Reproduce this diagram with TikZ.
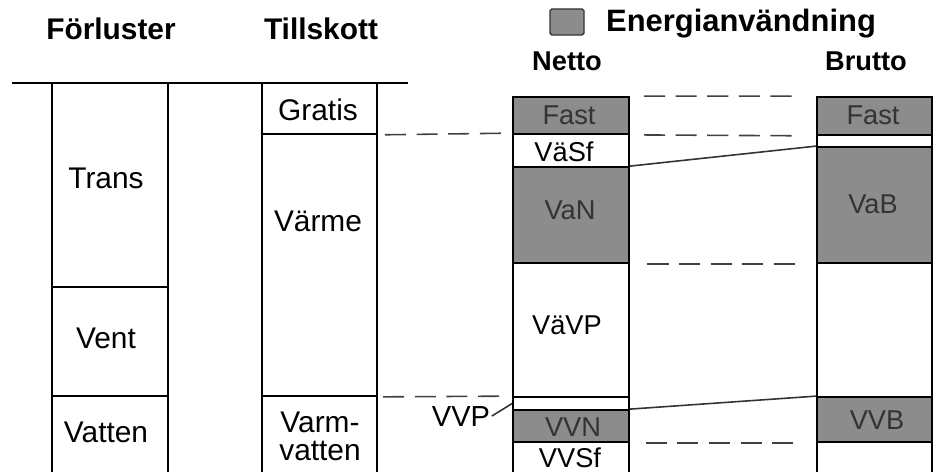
\documentclass[tikz,border=0pt]{standalone}
\usepackage{fontspec}
\setmainfont{Liberation Sans}
\usetikzlibrary{fit}

\begin{document}
\begin{tikzpicture}[x=0.02cm,y=-0.02cm,
  seg/.style={draw,line width=1pt,inner sep=0pt},
  energi/.style={seg,fill=black!45},
  lab/.style={font=\fontsize{17}{16}\selectfont,inner sep=0pt},
  nlab/.style={font=\fontsize{15.5}{16}\selectfont,inner sep=0pt},
  elab/.style={nlab,text=black!80},
  rubrik/.style={font=\bfseries\fontsize{17}{20}\selectfont,anchor=base},
  streck/.style={black!75,line width=0.9pt,dash pattern=on 12pt off 6pt},
  linje/.style={black!80,line width=0.9pt}]
\useasboundingbox (0,0) rectangle (944,472);
% rubriker
\node[rubrik] (forl) at (111,40) {Förluster};
\node[rubrik] (till) at (321,40) {Tillskott};
\node[draw=black!80,fill=black!45,rounded corners=1pt,line width=0.8pt,inner sep=0pt,fit={(550,9) (584,35)}] (legbox) {};
\node[rubrik,font=\bfseries\fontsize{17.6}{20}\selectfont] (energitxt) at (741,32) {Energianvändning};
\node[rubrik,font=\bfseries\fontsize{15.5}{18}\selectfont] (netto) at (567,71) {Netto};
\node[rubrik,font=\bfseries\fontsize{15.5}{18}\selectfont] (brutto) at (866,71) {Brutto};
\begin{scope}
\clip (0,0) rectangle (944,472);
\draw[line width=1pt] (12,83) -- (408,83);
% Förluster
\node[seg,fit={(52,83) (168,287)}] (trans) {};
\node[seg,fit={(52,287) (168,396)}] (vent) {};
\node[seg,fit={(52,396) (168,480)}] (vatten) {};
% Tillskott
\node[seg,fit={(262,83) (377,134)}] (gratis) {};
\node[seg,fit={(262,134) (377,396)}] (varme) {};
\node[seg,fit={(262,396) (377,480)}] (varmv) {};
% Netto
\node[energi,fit={(513,97) (629,134)}] (nfast) {};
\node[seg,fit={(513,134) (629,167)}] (vasf) {};
\node[energi,fit={(513,167) (629,263)}] (van) {};
\node[seg,fit={(513,263) (629,397)}] (vavp) {};
\node[seg,fit={(513,397) (629,410)}] (vvp) {};
\node[energi,fit={(513,410) (629,442)}] (vvn) {};
\node[seg,fit={(513,442) (629,480)}] (vvsf) {};
% Brutto
\node[energi,fit={(817,97) (932,135)}] (bfast) {};
\node[seg,fit={(817,135) (932,147)}] (bband) {};
\node[energi,fit={(817,147) (932,263)}] (vab) {};
\node[seg,fit={(817,263) (932,397)}] (bvarme) {};
\node[energi,fit={(817,397) (932,442)}] (vvb) {};
\node[seg,fit={(817,442) (932,480)}] (bvv) {};
% texter
\node[lab] (transtxt) at (106,178) {Trans};
\node[lab] (venttxt) at (106,338) {Vent};
\node[lab] (vattentxt) at (106,432) {Vatten};
\node[lab] (gratistxt) at (318,110) {Gratis};
\node[lab] (varmetxt) at (318,221) {Värme};
\node[lab,align=center] (varmvtxt) at (320,436) {Varm-\\vatten};
\node[elab] (nfasttxt) at (569,115) {Fast};
\node[nlab] (vasftxt) at (564,152) {VäSf};
\node[elab] (vantxt) at (570,210) {VaN};
\node[nlab] (vavptxt) at (567,325) {VäVP};
\node[elab] (vvntxt) at (573,427) {VVN};
\node[nlab] (vvsftxt) at (570,458) {VVSf};
\node[elab] (bfasttxt) at (873,115) {Fast};
\node[elab] (vabtxt) at (873,204) {VaB};
\node[elab] (vvbtxt) at (877,420) {VVB};
\end{scope}
% kopplingar
\draw[streck,shorten <=4pt,shorten >=2pt] (gratis.south east) -- (vasf.north west);
\draw[streck,shorten <=3pt,shorten >=2pt] (varme.south east) -- (vvp.north west);
\draw[streck,shorten <=8pt,shorten >=12pt] (nfast.north east) -- (bfast.north west);
\draw[streck,shorten <=8pt,shorten >=12pt] (nfast.south east) -- (bfast.south west);
\draw[streck,shorten <=10pt,shorten >=9pt] (van.south east) -- (vab.south west);
\draw[streck,shorten <=9pt,shorten >=13pt] (vvn.south east) -- (vvb.south west);
\draw[linje] (van.north east) -- (vab.north west);
\draw[linje] (vvn.north east) -- (vvb.north west);
\node[font=\fontsize{16.5}{16}\selectfont,inner sep=0pt] (vvplbl) at (461,417) {VVP};
\draw[linje,shorten <=1pt] (vvplbl.east) -- (vvp.west);
\end{tikzpicture}
\end{document}
